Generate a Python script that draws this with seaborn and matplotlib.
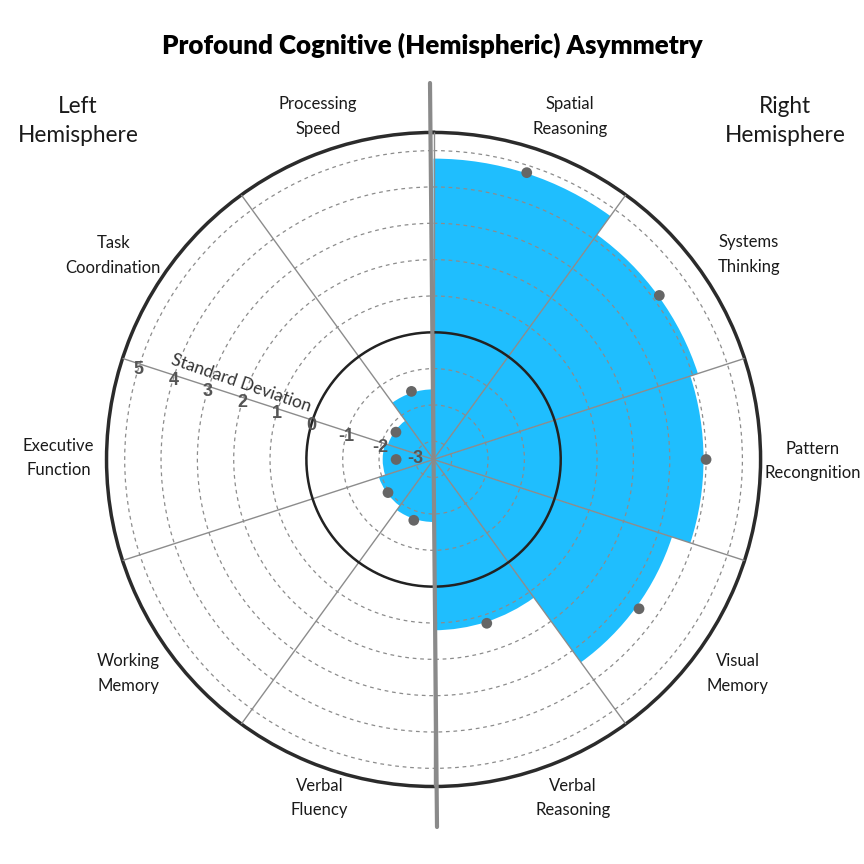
import numpy as np
import matplotlib.pyplot as plt
import matplotlib.transforms as mtransforms
from matplotlib.lines import Line2D
import seaborn as sns

sns.set_style('white')
plt.rcParams['font.family'] = ['Lato', 'DejaVu Sans']

# data (clockwise from the top, right hemisphere first)
categories = ["Spatial\nReasoning", "Systems\nThinking", "Pattern\nRecongnition",
              "Visual\nMemory", "Verbal\nReasoning", "Verbal\nFluency",
              "Working\nMemory", "Executive\nFunction", "Task\nCoordination",
              "Processing\nSpeed"]
bar_scores = [4.78, 4.15, 3.93, 3.40, 1.20, -1.78, -1.92, -2.10, -2.18, -1.57]
dot_scores = [4.80, 4.18, 4.00, 3.49, 1.24, -1.74, -1.95, -2.47, -2.22, -1.53]
sd_ticks = [-3, -2, -1, 0, 1, 2, 3, 4, 5]

# where each category label sits (angle in degrees, distance from centre in px)
label_angle = [21.7, 57.0, 90.2, 125.1, 157.6, 198.6, 235.0, 270.2, 302.5, 341.4]
label_dist = [369, 376, 379, 372, 366, 357, 373, 375, 380, 362]

BLUE = '#1fbefe'
r_min, r_max = -3.5, 5.5
ax_size = 0.757
px_per_unit = ax_size * 864 / 2 / (r_max - r_min)

n = len(categories)
step = 360 / n
theta = np.deg2rad(np.arange(n) * step + step / 2)

fig = plt.figure(figsize=(8.64, 8.64), dpi=100)
ax = fig.add_axes([0.1233, 0.0897, ax_size, ax_size], projection='polar')
ax.set_theta_zero_location('N')
ax.set_theta_direction(-1)
ax.set_ylim(r_min, r_max)
ax.set_axisbelow(False)

# bars
ax.bar(theta, np.array(bar_scores) - r_min, width=np.deg2rad(step), bottom=r_min,
       color=BLUE, linewidth=0, zorder=1)

# grid
ax.set_yticks(sd_ticks)
ax.set_yticklabels([])
ax.yaxis.grid(True, linestyle=(0, (3, 3)), color='#8c8c8c', linewidth=0.9)
ax.set_xticks(np.deg2rad(np.arange(0, 360, step)))
ax.set_xticklabels([])
ax.xaxis.grid(True, linestyle='-', color='#8c8c8c', linewidth=1)
ax.spines['polar'].set_color('#2b2b2b')
ax.spines['polar'].set_linewidth(2.5)

# zero line
circ = np.linspace(0, 2 * np.pi, 400)
ax.plot(circ, np.zeros_like(circ), color='#222222', linewidth=1.8, zorder=3)

# points
sns.scatterplot(x=theta, y=dot_scores, ax=ax, color='#666666', s=60,
                edgecolor='none', zorder=4, legend=False)

# radial labels
off = mtransforms.offset_copy(ax.transData, fig=fig, x=-1, y=-5, units='dots')
for v in sd_ticks:
    ax.text(np.deg2rad(288), v, str(v), transform=off, ha='center', va='center',
            fontsize=13, fontweight='bold', color='#555555',
            family=['Liberation Sans', 'DejaVu Sans'])
ax.text(np.deg2rad(291.7), 2.19, 'Standard Deviation', rotation=-19,
        ha='center', va='center', fontsize=12.5, color='#333333')

# category labels
for cat, a, d in zip(categories, label_angle, label_dist):
    ax.text(np.deg2rad(a), d / px_per_unit + r_min, cat, ha='center', va='center',
            fontsize=12, color='#1a1a1a', linespacing=1.65, clip_on=False)

# hemisphere divider
fig.add_artist(Line2D([430 / 864, 437 / 864], [1 - 83 / 864, 1 - 827 / 864],
                      color='#8a8a8a', linewidth=3, zorder=5))

fig.text(78 / 864, 1 - 121 / 864, 'Left\nHemisphere', ha='center', va='center',
         fontsize=16.3, linespacing=1.45, color='#1a1a1a')
fig.text(785 / 864, 1 - 121 / 864, 'Right\nHemisphere', ha='center', va='center',
         fontsize=16.3, linespacing=1.45, color='#1a1a1a')
fig.text(0.5, 1 - 45 / 864, 'Profound Cognitive (Hemispheric) Asymmetry',
         ha='center', va='center', fontsize=18.7, fontweight='heavy', color='black')

fig.savefig('out.png', dpi=100)
